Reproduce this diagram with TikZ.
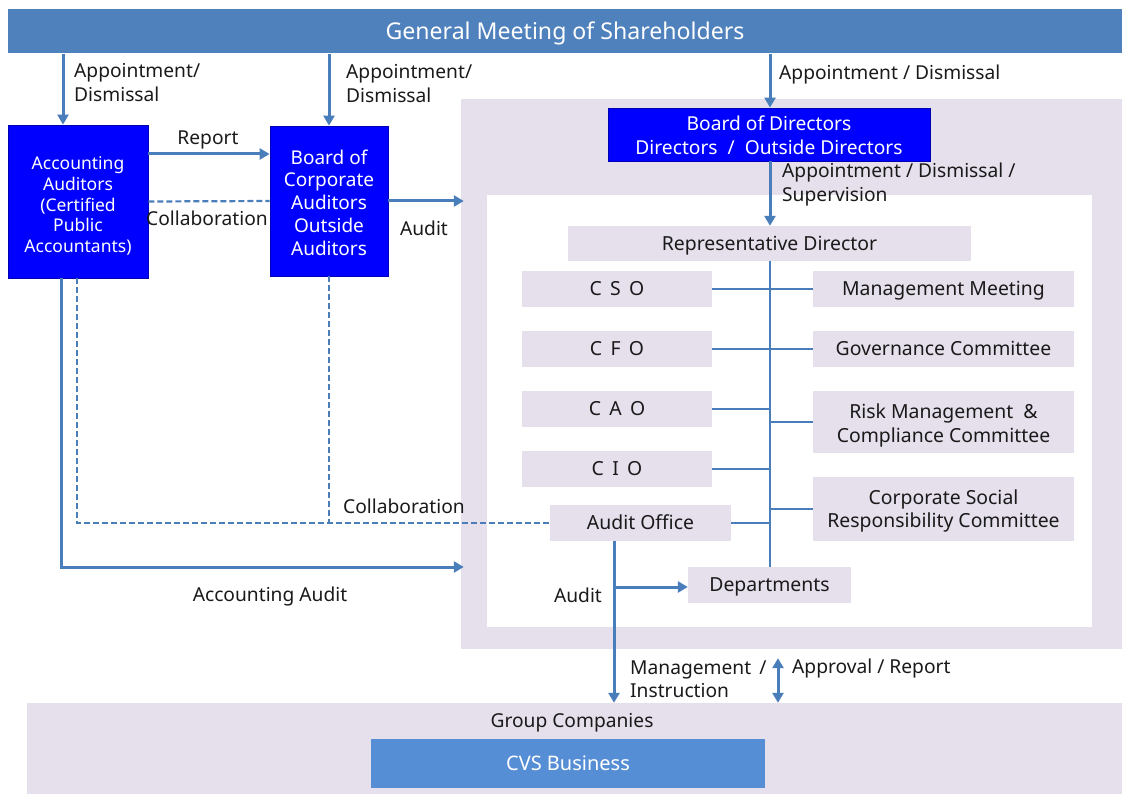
\documentclass[tikz,border=0pt]{standalone}
\usepackage{fontspec}
\setmainfont{Noto Sans}
\usetikzlibrary{arrows.meta,calc}
\definecolor{barblue}{HTML}{4F81BD}
\definecolor{arrblue}{HTML}{4A7EBB}
\definecolor{lav}{HTML}{E6E0EC}
\definecolor{brightblue}{HTML}{0000FF}
\definecolor{cvsblue}{HTML}{558ED5}
\definecolor{txt}{HTML}{1A1A1A}
\tikzset{
  box/.style={rectangle, inner sep=0pt, align=center},
  oneline/.style={text height=#1, text depth=0pt},
  lavbox/.style={box, fill=lav, text=txt, font=\fontsize{19.4}{23.5}\selectfont, oneline=13.9pt},
  bluebox/.style={box, fill=brightblue, draw=blue!70!black, line width=0.8pt, text=white},
  intext/.style={anchor=center, inner sep=0pt, align=center},
  arr/.style={draw=arrblue, line width=3pt, -{Triangle[length=10pt,width=11pt]}},
  dbl/.style={draw=arrblue, line width=3pt, {Triangle[length=10pt,width=11pt]}-{Triangle[length=10pt,width=11pt]}},
  dashline/.style={draw=arrblue, line width=2.2pt, dash pattern=on 6pt off 3pt},
  thinline/.style={draw=arrblue, line width=1.2pt},
  lbl/.style={text=txt, font=\fontsize{19.2}{23.5}\selectfont, inner sep=0pt, align=left},
}
\begin{document}
\begin{tikzpicture}[x=1pt,y=-1pt]
\useasboundingbox (0,0) rectangle (1122,794);
% regions
\node[box, fill=lav, minimum width=661pt, minimum height=550pt] (outer) at (791.5,374) {};
\node[box, fill=white, minimum width=605pt, minimum height=432pt] (inner) at (789.5,411) {};
\node[box, fill=lav, minimum width=1095pt, minimum height=91pt] (group) at (574.5,748.5) {};
% top bar
\node[box, oneline=16.5pt, fill=barblue, text=white, minimum width=1114pt, minimum height=44pt, font=\fontsize{23.1}{26}\selectfont] (bar) at (565,31.5) {General Meeting of Shareholders};
% blue boxes
\node[bluebox, minimum width=140pt, minimum height=153pt,
  label={[intext, text=white, font=\fontsize{17.5}{20.8}\selectfont, yshift=-4.5pt]center:{Accounting\\Auditors\\(Certified\\Public\\Accountants)}}] (acc) at (78,201.5) {};
\node[bluebox, minimum width=118pt, minimum height=150pt,
  label={[intext, text=white, font=\fontsize{19}{22.8}\selectfont, yshift=-1.5pt]center:{Board of\\Corporate\\Auditors\\Outside\\Auditors}}] (bca) at (329,201) {};
\node[bluebox, minimum width=322pt, minimum height=53pt,
  label={[intext, text=white, font=\fontsize{19.2}{24.5}\selectfont, yshift=-1pt]center:{Board of Directors\\Directors \ / \ Outside Directors}}] (bod) at (769,134.5) {};
% management boxes
\node[lavbox, minimum width=403pt, minimum height=35pt] (rep) at (769.5,243.5) {Representative Director};
\node[lavbox, minimum width=190pt, minimum height=36pt] (cso) at (617,289) {C\ \,S\ \,O};
\node[lavbox, minimum width=190pt, minimum height=36pt] (cfo) at (617,349) {C\ \,F\ \,O};
\node[lavbox, minimum width=190pt, minimum height=36pt] (cao) at (617,409) {C\ \,A\ \,O};
\node[lavbox, minimum width=190pt, minimum height=36pt] (cio) at (617,469) {C\ \,I\ \,O};
\node[lavbox, minimum width=181pt, minimum height=36pt] (ao) at (640.5,523) {Audit Office};
\node[lavbox, minimum width=261pt, minimum height=36pt] (mm) at (943.5,289) {Management Meeting};
\node[lavbox, minimum width=261pt, minimum height=36pt] (gov) at (943.5,349) {Governance Committee};
\node[box, fill=lav, minimum width=261pt, minimum height=62pt,
  label={[intext, text=txt, font=\fontsize{19.4}{23.4}\selectfont, yshift=-3.5pt]center:{Risk Management \ \&\\Compliance Committee}}] (risk) at (943.5,422) {};
\node[box, fill=lav, minimum width=261pt, minimum height=64pt,
  label={[intext, text=txt, font=\fontsize{19.4}{23.6}\selectfont, yshift=-2pt]center:{Corporate Social\\Responsibility Committee}}] (csr) at (943.5,509) {};
\node[lavbox, minimum width=163pt, minimum height=36pt] (dep) at (769.5,585) {Departments};
\node[box, oneline=14.3pt, fill=cvsblue, text=white, minimum width=394pt, minimum height=49pt, font=\fontsize{20}{24}\selectfont] (cvs) at (568,763.5) {CVS Business};
\node[lbl] (gclbl) at (572,722.5) {Group Companies};
% coordinates
\coordinate (xa) at (63,0);
\coordinate (xs) at (61,0);
\coordinate (xd) at (77,0);
\coordinate (xb) at (770,0);
\coordinate (xm) at (614,0);
\coordinate (xr) at (778,0);
\coordinate (yrep) at (0,154);
\coordinate (yacc) at (0,567);
\coordinate (ydep) at (0,587);
% thin org lines
\draw[thinline] (rep.south -| xb) -- (dep.north -| xb);
\draw[thinline] (cso.east) -- (mm.west);
\draw[thinline] (cfo.east) -- (gov.west);
\draw[thinline] (cao.east) -- (cao.east -| xb);
\draw[thinline] (risk.west -| xb) -- (risk.west);
\draw[thinline] (cio.east) -- (cio.east -| xb);
\draw[thinline] (csr.west -| xb) -- (csr.west);
\draw[thinline] (ao.east) -- (ao.east -| xb);
% arrows from shareholders
\draw[arr] (bar.south -| xa) -- (acc.north -| xa);
\draw[arr] (bar.south -| bca.north) -- (bca.north);
\draw[arr] (bar.south -| xb) -- (bod.north -| xb);
\draw[arr] (bod.south -| xb) -- (rep.north -| xb);
% between auditors
\draw[arr] (acc.east |- yrep) -- (bca.west |- yrep);
\draw[dashline] (acc.east) -- (bca.west);
\draw[arr] (bca.east) -- ([xshift=3pt]outer.west |- bca.east);
% accounting audit
\draw[arr] (acc.south -| xs) |- ([xshift=3pt]outer.west |- yacc);
% collaboration dashed
\draw[dashline] (acc.south -| xd) |- (ao.west);
\draw[dashline] (bca.south) -- (bca.south |- ao.west);
% audit office
\draw[arr] (ao.south -| xm) -- (group.north -| xm);
\draw[arr] (ydep -| xm) -- (dep.west |- ydep);
\draw[dbl] ([yshift=-9pt]outer.south -| xr) -- (group.north -| xr);
% labels
\node[lbl, anchor=west] at (74,82.5) {Appointment/\\Dismissal};
\node[lbl, anchor=west] at (346,83.5) {Appointment/\\Dismissal};
\node[lbl, anchor=west] at (779,75) {Appointment / Dismissal};
\node[lbl, anchor=west, font=\fontsize{19.2}{24.5}\selectfont] at (782,184.5) {Appointment / Dismissal /\\Supervision};
\node[lbl] at (208,139.5) {Report};
\node[lbl] at (207,218) {Collaboration};
\node[lbl] at (424,228) {Audit};
\node[lbl, anchor=west] at (343,506) {Collaboration};
\node[lbl] at (270,597) {Accounting Audit};
\node[lbl] at (578,595) {Audit};
\node[lbl, anchor=west] at (630,679) {Management \,/\\Instruction};
\node[lbl, anchor=west] at (792,669) {Approval / Report};
\end{tikzpicture}
\end{document}
